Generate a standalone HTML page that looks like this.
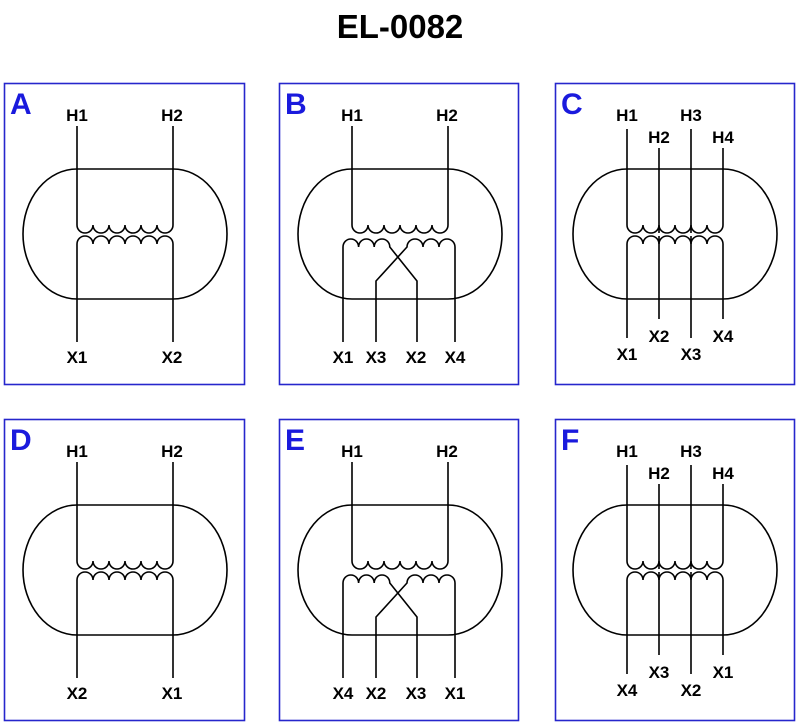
<!DOCTYPE html>
<html><head><meta charset="utf-8"><style>
html,body{margin:0;padding:0;background:#fff;}
svg{display:block;}
text{font-family:"Liberation Sans",Arial,sans-serif;font-weight:bold;}
</style></head><body>
<svg width="800" height="727" viewBox="0 0 800 727" xmlns="http://www.w3.org/2000/svg">
<defs>
<path id="stad" d="M77,169 H173 A54,65 0 0 1 173,299 H77 A54,65 0 0 1 77,169 Z" fill="none" stroke="#000" stroke-width="1.6"/>
<g id="pri2" fill="none" stroke="#000" stroke-width="1.6">
<path d="M77,126 V225 a8,8 0 0 0 16,0 a8,8 0 0 0 16,0 a8,8 0 0 0 16,0 a8,8 0 0 0 16,0 a8,8 0 0 0 16,0 a8,8 0 0 0 16,0 V126"/>
</g>
<g id="panA" fill="none" stroke="#000" stroke-width="1.6">
<use href="#stad"/><use href="#pri2"/>
<path d="M77,342 V244 a8,8 0 0 1 16,0 a8,8 0 0 1 16,0 a8,8 0 0 1 16,0 a8,8 0 0 1 16,0 a8,8 0 0 1 16,0 a8,8 0 0 1 16,0 V342"/>
</g>
<g id="panB" fill="none" stroke="#000" stroke-width="1.6">
<use href="#stad" transform="translate(275,0)"/><use href="#pri2" transform="translate(275,0)"/>
<path d="M343,342 V247 a7.8,8 0 0 1 15.6,0 a7.8,8 0 0 1 15.6,0 a7.8,8 0 0 1 15.6,0 L417,281 V342"/>
<path d="M455,342 V247 a8,8 0 0 0 -16,0 a8,8 0 0 0 -16,0 a8,8 0 0 0 -16,0 L376,281 V342"/>
</g>
<g id="panC" fill="none" stroke="#000" stroke-width="1.6">
<use href="#stad" transform="translate(550,0)"/>
<path d="M627,129 V225 a8,8 0 0 0 16,0 a8,8 0 0 0 16,0 a8,8 0 0 0 16,0 a8,8 0 0 0 16,0 a8,8 0 0 0 16,0 a8,8 0 0 0 16,0 V148"/>
<path d="M659,148 V233 M691,129 V233"/>
<path d="M627,338 V244 a8,8 0 0 1 16,0 a8,8 0 0 1 16,0 a8,8 0 0 1 16,0 a8,8 0 0 1 16,0 a8,8 0 0 1 16,0 a8,8 0 0 1 16,0 V319"/>
<path d="M659,236 V319 M691,236 V338"/>
</g>
</defs>

<text x="400" y="38" font-size="33" text-anchor="middle" fill="#000">EL-0082</text>

<g fill="none" stroke="#2626cc" stroke-width="1.6">
<rect x="4.5" y="83.5" width="240" height="301"/>
<rect x="279.5" y="83.5" width="239" height="301"/>
<rect x="555.5" y="83.5" width="239" height="301"/>
<rect x="4.5" y="419.5" width="240" height="301"/>
<rect x="279.5" y="419.5" width="239" height="301"/>
<rect x="555.5" y="419.5" width="239" height="301"/>
</g>

<use href="#panA"/><use href="#panB"/><use href="#panC"/>
<use href="#panA" transform="translate(0,336)"/><use href="#panB" transform="translate(0,336)"/><use href="#panC" transform="translate(0,336)"/>

<g fill="#1a1add" font-size="30">
<text x="10" y="114">A</text><text x="285" y="114">B</text><text x="561" y="114">C</text>
<text x="10" y="450">D</text><text x="285" y="450">E</text><text x="561" y="450">F</text>
</g>

<g font-size="17" text-anchor="middle" fill="#000">
<text x="77" y="121">H1</text><text x="172" y="121">H2</text>
<text x="77" y="363">X1</text><text x="172" y="363">X2</text>
<text x="352" y="121">H1</text><text x="447" y="121">H2</text>
<text x="343" y="363">X1</text><text x="376" y="363">X3</text><text x="416" y="363">X2</text><text x="455" y="363">X4</text>
<text x="627" y="121">H1</text><text x="659" y="143">H2</text><text x="691" y="121">H3</text><text x="723" y="143">H4</text>
<text x="627" y="360">X1</text><text x="659" y="342">X2</text><text x="691" y="360">X3</text><text x="723" y="342">X4</text>

<text x="77" y="457">H1</text><text x="172" y="457">H2</text>
<text x="77" y="699">X2</text><text x="172" y="699">X1</text>
<text x="352" y="457">H1</text><text x="447" y="457">H2</text>
<text x="343" y="699">X4</text><text x="376" y="699">X2</text><text x="416" y="699">X3</text><text x="455" y="699">X1</text>
<text x="627" y="457">H1</text><text x="659" y="479">H2</text><text x="691" y="457">H3</text><text x="723" y="479">H4</text>
<text x="627" y="696">X4</text><text x="659" y="678">X3</text><text x="691" y="696">X2</text><text x="723" y="678">X1</text>
</g>
</svg>
</body></html>
